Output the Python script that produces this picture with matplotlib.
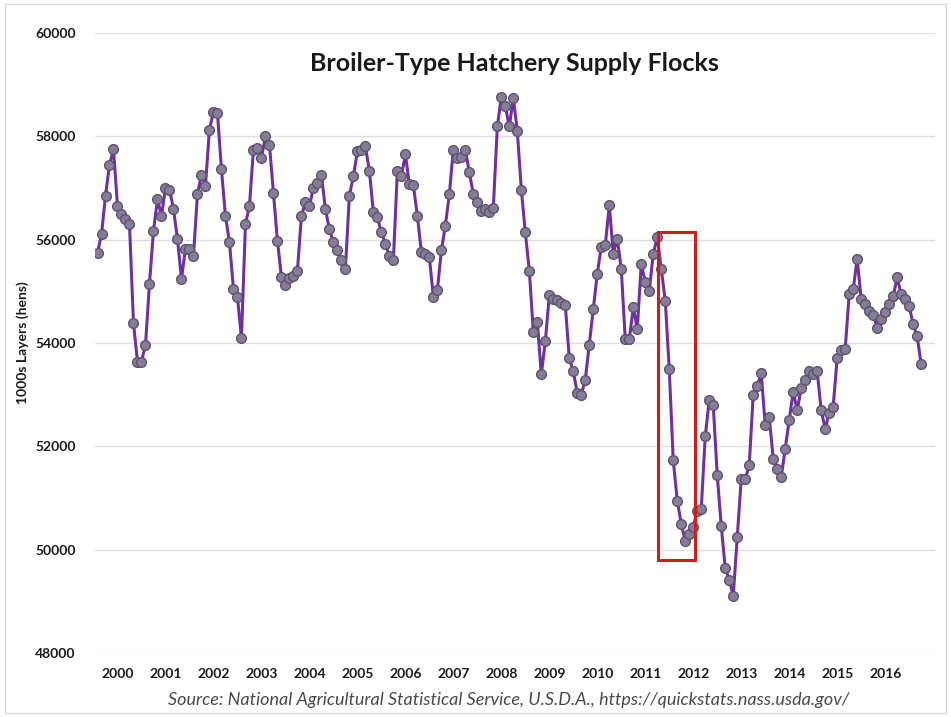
import matplotlib
matplotlib.use("Agg")
import matplotlib.pyplot as plt
from matplotlib.patches import Rectangle

# monthly flock size, 1000s of layers, starting Jan 2000
y2000 = [55750, 56100, 56850, 57450, 57750, 56650, 56500, 56400, 56300, 54380, 53640, 53640]
y2001 = [53960, 55150, 56170, 56780, 56460, 57000, 56970, 56600, 56010, 55240, 55820, 55820]
y2002 = [55690, 56880, 57260, 57040, 58130, 58480, 58450, 57360, 56460, 55950, 55050, 54890]
y2003 = [54090, 56300, 56650, 57740, 57780, 57580, 58000, 57840, 56910, 55980, 55280, 55130]
y2004 = [55250, 55300, 55400, 56460, 56720, 56650, 57000, 57100, 57260, 56590, 56200, 55950]
y2005 = [55790, 55600, 55440, 56850, 57230, 57710, 57740, 57810, 57330, 56530, 56430, 56140]
y2006 = [55920, 55690, 55600, 57330, 57230, 57650, 57070, 57050, 56460, 55760, 55720, 55660]
y2007 = [54890, 55020, 55790, 56270, 56880, 57740, 57580, 57600, 57740, 57300, 56880, 56720]
y2008 = [56560, 56600, 56530, 56620, 58190, 58770, 58580, 58190, 58740, 58100, 56970, 56140]
y2009 = [55400, 54220, 54410, 53390, 54030, 54920, 54860, 54840, 54780, 54730, 53700, 53450]
y2010 = [53030, 53000, 53290, 53970, 54650, 55340, 55860, 55890, 56670, 55730, 56020, 55430]
y2011 = [54070, 54070, 54690, 54270, 55530, 55180, 55010, 55730, 56050, 55430, 54820, 53490]
y2012 = [51730, 50950, 50500, 50170, 50300, 50430, 50750, 50790, 52190, 52900, 52800, 51440]
y2013 = [50460, 49650, 49420, 49100, 50240, 51370, 51370, 51630, 53000, 53160, 53420, 52410]
y2014 = [52570, 51760, 51560, 51400, 51950, 52500, 53060, 52700, 53120, 53290, 53450, 53400]
y2015 = [53450, 52700, 52340, 52640, 52770, 53710, 53870, 53880, 54940, 55040, 55620, 54850]
y2016 = [54750, 54620, 54550, 54290, 54460, 54590, 54750, 54900, 55270, 54940, 54850, 54720]
y2017 = [54360, 54130, 53590]

flocks = (y2000 + y2001 + y2002 + y2003 + y2004 + y2005 + y2006 + y2007 + y2008
          + y2009 + y2010 + y2011 + y2012 + y2013 + y2014 + y2015 + y2016 + y2017)
year_labels = ["2000", "2001", "2002", "2003", "2004", "2005", "2006", "2007", "2008",
               "2009", "2010", "2011", "2012", "2013", "2014", "2015", "2016"]

# highlighted window (month index range, value range)
box_x = (140.2, 149.4)
box_y = (49800, 56150)

plt.rcParams['font.family'] = ['Lato', 'DejaVu Sans']

fig = plt.figure(figsize=(9.51, 7.17), dpi=100)
ax = fig.add_axes([0.0999, 0.0893, 0.883, 0.8647])

months = list(range(len(flocks)))
ax.plot(months, flocks, color='#7030A0', linewidth=2.2, marker='o', markersize=7,
        markerfacecolor='#857d96', markeredgecolor='#5e5270', markeredgewidth=1.0, zorder=3)

ax.add_patch(Rectangle((box_x[0], box_y[0]), box_x[1] - box_x[0], box_y[1] - box_y[0],
                       fill=False, edgecolor='#d01c1c', linewidth=2.2, zorder=4))

ax.set_xlim(-0.625, 209.4)
ax.set_ylim(48000, 60000)
ax.set_yticks(range(48000, 60001, 2000))
ax.set_yticklabels([str(v) for v in range(48000, 60001, 2000)])
ax.set_xticks([5.0 + 12 * i for i in range(len(year_labels))])
ax.set_xticklabels(year_labels)
ax.tick_params(length=0, labelsize=10, labelcolor='#1a1a1a')
ax.tick_params(axis='x', pad=11)
ax.tick_params(axis='y', pad=14)
for lab in ax.get_xticklabels() + ax.get_yticklabels():
    lab.set_fontweight('bold')

ax.grid(axis='y', color='#dedede', linewidth=1.0)
ax.set_axisbelow(True)
for s in ax.spines.values():
    s.set_visible(False)

ax.set_ylabel('1000s Layers (hens)', fontsize=10, fontweight='bold', color='#1a1a1a', labelpad=4)
ax.set_title('Broiler-Type Hatchery Supply Flocks', fontsize=18, fontweight='bold',
             color='#1a1a1a', y=0.925)

fig.text(0.535, 0.012, 'Source: National Agricultural Statistical Service, U.S.D.A., https://quickstats.nass.usda.gov/',
         ha='center', va='bottom', fontsize=13, style='italic', color='#4a4a4a')

fig.patches.append(Rectangle((0.005, 0.005), 0.99, 0.99, transform=fig.transFigure,
                             fill=False, edgecolor='#d9d9d9', linewidth=1.0))

fig.savefig('out.png', dpi=100)
